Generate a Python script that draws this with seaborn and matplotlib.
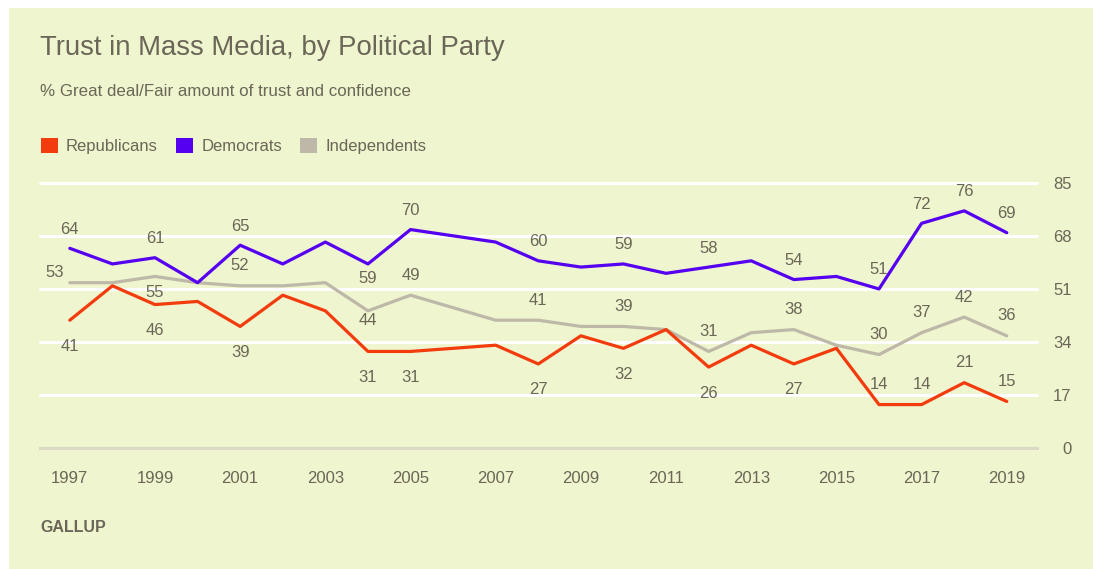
import numpy as np
import pandas as pd
import matplotlib
matplotlib.use('Agg')
import matplotlib.pyplot as plt
from matplotlib.patches import Patch
import seaborn as sns

# ---- data (2006 has no survey) ----
years = [1997, 1998, 1999, 2000, 2001, 2002, 2003, 2004, 2005, 2007, 2008,
         2009, 2010, 2011, 2012, 2013, 2014, 2015, 2016, 2017, 2018, 2019]
republicans = [41, 52, 46, 47, 39, 49, 44, 31, 31, 33, 27,
               36, 32, 38, 26, 33, 27, 32, 14, 14, 21, 15]
democrats = [64, 59, 61, 53, 65, 59, 66, 59, 70, 66, 60,
             58, 59, 56, 58, 60, 54, 55, 51, 72, 76, 69]
independents = [53, 53, 55, 53, 52, 52, 53, 44, 49, 41, 41,
                39, 39, 38, 31, 37, 38, 33, 30, 37, 42, 36]
parties = ['Republicans', 'Democrats', 'Independents']
label_years = [1997, 1999, 2001, 2004, 2005, 2008, 2010, 2012, 2014, 2016, 2017, 2018, 2019]
x_ticks = list(range(1997, 2020, 2))
y_ticks = [0, 17, 34, 51, 68, 85]

colors = {'Republicans': '#f23c0e', 'Democrats': '#5500f0', 'Independents': '#bdb8a8'}
bg = '#eff5ce'
txt = '#6b6657'

df = pd.DataFrame({'year': years * 3,
                   'party': np.repeat(parties, len(years)),
                   'value': republicans + democrats + independents})

sns.set_style('white')
plt.rcParams['font.family'] = ['Liberation Sans', 'DejaVu Sans']

fig = plt.figure(figsize=(10.93, 5.69), dpi=100)
fig.patch.set_facecolor('white')
# light panel with thin white margin top/left
fig.patches.append(plt.Rectangle((9 / 1093, 0), 1, 1 - 8 / 569, transform=fig.transFigure,
                                 facecolor=bg, edgecolor='none', zorder=-10))
ax = fig.add_axes([40 / 1093, 0.2121, 997 / 1093, 0.4668])
ax.set_facecolor(bg)
ax.patch.set_alpha(0)

for y in y_ticks[1:]:
    ax.axhline(y, color='white', lw=2.2, zorder=1, clip_on=False)

sns.lineplot(data=df, x='year', y='value', hue='party', palette=colors,
             hue_order=['Independents', 'Republicans', 'Democrats'],
             linewidth=2.3, legend=False, ax=ax, zorder=3)

ax.set_xlim(1996.30, 2019.71)
ax.set_ylim(0, 85)
ax.set_xticks(x_ticks)
ax.set_xticklabels([str(t) for t in x_ticks])
ax.set_yticks(y_ticks)
ax.yaxis.tick_right()
ax.tick_params(axis='y', length=0, pad=25, labelsize=12, labelcolor=txt)
for lab in ax.get_yticklabels():
    lab.set_horizontalalignment('right')
ax.tick_params(axis='x', length=9.5, width=1.2, color='#dcd8c6', pad=7,
               labelsize=12, labelcolor=txt)
ax.set_xlabel('')
ax.set_ylabel('')
for s in ['top', 'left', 'right']:
    ax.spines[s].set_visible(False)
ax.spines['bottom'].set_color('#dcd8c6')
ax.spines['bottom'].set_linewidth(2.2)

# value labels
offsets = {
    'Democrats': {2004: -15},
    'Republicans': {2016: 20, 2017: 20, 2018: 20, 2019: 20},
    'Independents': {1997: 10, 1999: -16, 2004: -10},
}
default_off = {'Democrats': 19, 'Republicans': -26, 'Independents': 20}
series = {'Republicans': republicans, 'Democrats': democrats, 'Independents': independents}
for party in parties:
    vals = dict(zip(years, series[party]))
    for yr in label_years:
        dy = offsets[party].get(yr, default_off[party])
        dx = -15 if (party == 'Independents' and yr == 1997) else 0
        ax.annotate(str(vals[yr]), (yr, vals[yr]), xytext=(dx, dy),
                    textcoords='offset pixels', ha='center', va='center',
                    fontsize=12, color=txt, zorder=5)

fig.text(40 / 1093, 1 - 48 / 569, 'Trust in Mass Media, by Political Party',
         fontsize=19.8, color=txt, va='center', ha='left')
fig.text(40 / 1093, 1 - 92 / 569, '% Great deal/Fair amount of trust and confidence',
         fontsize=12.2, color=txt, va='center', ha='left')
fig.text(40 / 1093, 1 - 528 / 569, 'GALLUP', fontsize=11.5, color=txt,
         va='center', ha='left', fontweight='bold')

handles = [Patch(facecolor=colors[p], edgecolor='none', label=p) for p in parties]
fig.legend(handles=handles, loc='center left', bbox_to_anchor=(26 / 1093, 1 - 146 / 569),
           ncol=3, frameon=False, handlelength=1.0, handleheight=1.0,
           handletextpad=0.5, columnspacing=1.1, fontsize=12, labelcolor=txt)

fig.savefig('out.png', dpi=100, facecolor=fig.get_facecolor())
